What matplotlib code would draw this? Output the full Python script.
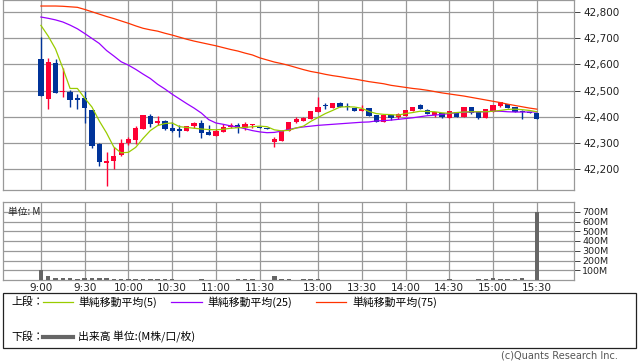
import matplotlib
matplotlib.use("Agg")
import matplotlib.pyplot as plt
from matplotlib.lines import Line2D
from matplotlib.patches import Rectangle

plt.rcParams['font.family'] = ['DejaVu Sans', 'Noto Sans CJK JP']
JP = ['Noto Sans CJK JP', 'DejaVu Sans']

# 5-minute bars, index 0 = 9:00 ... 31 = 11:35, 32 = 12:30 ... 68 = 15:30
tick_idx = [0, 6, 12, 18, 24, 30, 38, 44, 50, 56, 62, 68]
tick_labels = ["9:00", "9:30", "10:00", "10:30", "11:00", "11:30",
               "13:00", "13:30", "14:00", "14:30", "15:00", "15:30"]

opens = [42620, 42469, 42605, 42493, 42495, 42470, 42470, 42426, 42295, 42224,
         42232, 42254, 42301, 42310, 42352, 42403, 42376, 42384, 42357, 42352,
         42346, 42365, 42376, 42341, 42327, 42343, 42359, 42368, 42358, 42369,
         42359, 42357, 42302, 42308, 42346, 42381, 42385, 42390, 42419, 42444,
         42434, 42451, 42442, 42434, 42423, 42432, 42405, 42378, 42406, 42400,
         42403, 42423, 42445, 42426, 42405, 42414, 42396, 42417, 42400, 42438,
         42417, 42396, 42419, 42442, 42448, 42436, 42422, 42418, 42416]
highs = [42706, 42624, 42620, 42585, 42502, 42487, 42498, 42426, 42298, 42265,
         42285, 42316, 42321, 42364, 42406, 42411, 42403, 42389, 42380, 42368,
         42364, 42381, 42388, 42368, 42353, 42372, 42377, 42375, 42379, 42373,
         42359, 42357, 42321, 42346, 42380, 42398, 42400, 42423, 42476, 42451,
         42451, 42457, 42451, 42434, 42445, 42432, 42405, 42405, 42406, 42413,
         42426, 42438, 42448, 42429, 42418, 42414, 42422, 42417, 42438, 42438,
         42422, 42429, 42445, 42457, 42448, 42436, 42426, 42418, 42416]
lows = [42480, 42429, 42492, 42474, 42438, 42429, 42375, 42279, 42212, 42136,
        42200, 42250, 42292, 42296, 42352, 42362, 42368, 42349, 42343, 42324,
        42346, 42355, 42320, 42330, 42327, 42343, 42356, 42339, 42349, 42356,
        42356, 42354, 42285, 42308, 42346, 42375, 42382, 42390, 42419, 42431,
        42434, 42438, 42424, 42422, 42423, 42404, 42378, 42378, 42387, 42391,
        42403, 42423, 42428, 42409, 42400, 42396, 42396, 42400, 42400, 42409,
        42391, 42396, 42419, 42438, 42432, 42417, 42390, 42415, 42392]
closes = [42480, 42609, 42492, 42498, 42464, 42465, 42432, 42288, 42228, 42230,
          42250, 42301, 42313, 42358, 42406, 42374, 42385, 42354, 42347, 42347,
          42364, 42376, 42336, 42331, 42345, 42361, 42368, 42356, 42373, 42373,
          42356, 42354, 42314, 42346, 42380, 42390, 42394, 42423, 42438, 42440,
          42451, 42438, 42438, 42422, 42430, 42404, 42378, 42405, 42397, 42409,
          42426, 42438, 42428, 42409, 42418, 42400, 42422, 42400, 42438, 42413,
          42396, 42429, 42445, 42455, 42432, 42417, 42418, 42415, 42392]

sma5 = [42749, 42708, 42659, 42586, 42508, 42508, 42471, 42437, 42384, 42338,
        42284, 42262, 42264, 42283, 42317, 42347, 42366, 42374, 42376, 42362,
        42359, 42356, 42353, 42351, 42350, 42352, 42356, 42358, 42359, 42362,
        42364, 42362, 42350, 42346, 42348, 42357, 42364, 42382, 42397, 42412,
        42424, 42437, 42438, 42437, 42432, 42420, 42412, 42409, 42408, 42406,
        42412, 42416, 42421, 42420, 42419, 42415, 42413, 42416, 42418, 42419,
        42419, 42419, 42421, 42424, 42428, 42429, 42427, 42424, 42419]
sma25 = [42781, 42776, 42770, 42762, 42750, 42736, 42718, 42699, 42680, 42653,
         42632, 42610, 42597, 42581, 42563, 42546, 42524, 42506, 42486, 42468,
         42450, 42433, 42414, 42389, 42376, 42371, 42365, 42361, 42354, 42347,
         42342, 42339, 42340, 42345, 42351, 42357, 42361, 42364, 42367, 42369,
         42371, 42373, 42375, 42377, 42379, 42380, 42384, 42385, 42387, 42390,
         42393, 42396, 42400, 42404, 42406, 42409, 42412, 42415, 42417, 42418,
         42419, 42419, 42421, 42421, 42419, 42418, 42418, 42418, 42418]
sma75 = [42823, 42823, 42823, 42822, 42820, 42818, 42810, 42801, 42792, 42783,
         42775, 42766, 42757, 42747, 42738, 42732, 42727, 42719, 42712, 42704,
         42696, 42689, 42683, 42677, 42671, 42664, 42657, 42651, 42643, 42636,
         42625, 42617, 42609, 42603, 42596, 42588, 42580, 42573, 42568, 42562,
         42557, 42553, 42548, 42544, 42539, 42534, 42530, 42526, 42520, 42516,
         42512, 42508, 42505, 42501, 42496, 42491, 42487, 42483, 42479, 42474,
         42469, 42464, 42459, 42454, 42448, 42443, 42438, 42433, 42429]

# volume in millions
volume = [100, 44, 20, 20, 20, 8, 20, 20, 20, 20,
          10, 10, 10, 10, 10, 10, 10, 10, 10, 3,
          3, 2, 10, 2, 2, 2, 2, 10, 10, 10,
          1, 1, 40, 12, 10, 3, 10, 10, 12, 4,
          4, 3, 3, 3, 3, 3, 3, 3, 3, 3,
          3, 3, 3, 3, 3, 3, 12, 3, 3, 3,
          10, 8, 20, 12, 10, 12, 20, 3, 700]

price_ticks = [42200, 42300, 42400, 42500, 42600, 42700, 42800]
vol_ticks = [100, 200, 300, 400, 500, 600, 700]

UP = "#ff0033"
DOWN = "#003399"
GRID = "#999999"

W, H = 638, 362
fig = plt.figure(figsize=(W / 100, H / 100), dpi=100)


def fx(x):
    return x / W


def fy(y):
    return 1 - y / H


ax = fig.add_axes([fx(3), fy(190), fx(574) - fx(3), fy(0) - fy(190)])
axv = fig.add_axes([fx(3), fy(280), fx(574) - fx(3), fy(202) - fy(280)])

xs = list(range(len(opens)))
for a in (ax, axv):
    a.set_xlim(-5.2, 73.1)
    a.set_xticks(tick_idx)
    a.grid(True, color=GRID, linewidth=0.9)
    a.set_axisbelow(True)
    a.yaxis.tick_right()
    for s in a.spines.values():
        s.set_color(GRID)
        s.set_linewidth(0.9)
    a.tick_params(axis="x", length=0)
    a.tick_params(axis="y", colors="#222222", length=4, color="#222222",
                  width=0.6, pad=3)

# candles
for i in xs:
    o, h, l, c = opens[i], highs[i], lows[i], closes[i]
    col = UP if c > o else DOWN
    ax.vlines(i, l, h, color=col, linewidth=1.0, zorder=3)
    ax.bar(i, max(abs(c - o), 3), bottom=min(o, c), width=0.72, color=col,
           linewidth=0, zorder=3)

ax.plot(xs, sma75, color="#ff3300", linewidth=0.9, zorder=4)
ax.plot(xs, sma25, color="#9900ff", linewidth=0.9, zorder=4)
ax.plot(xs, sma5, color="#99cc00", linewidth=0.9, zorder=5)

ax.set_ylim(42120, 42846)
ax.set_yticks(price_ticks)
ax.set_yticklabels([f"{p:,}" for p in price_ticks], fontsize=7.5)
ax.set_xticklabels([])

# volume
axv.bar(xs, volume, width=0.62, color="#666666", linewidth=0, zorder=3)
axv.set_ylim(0, 800)
axv.set_yticks(vol_ticks)
axv.set_yticklabels([f"{v}M" for v in vol_ticks], fontsize=6.8)
axv.tick_params(axis="y", pad=2)
axv.set_xticklabels(tick_labels, fontsize=7.5, color="#222222")
axv.tick_params(axis="x", pad=2)
axv.text(0.008, 0.93, "単位: M", transform=axv.transAxes, fontsize=7,
         family=JP, va="top", ha="left", color="#222222")

# legend box
fig.patches.append(Rectangle((fx(3), fy(348)), fx(636) - fx(3), fy(293) - fy(348),
                             transform=fig.transFigure, fill=False,
                             edgecolor="#222222", linewidth=0.9))
row1, row2 = 302, 337
fs = 7.8
fig.text(fx(11), fy(row1), "上段：", family=JP, fontsize=fs, va="center")
fig.text(fx(11), fy(row2), "下段：", family=JP, fontsize=fs, va="center")
legend_items = [(43, 73, 78, "#99cc00", "単純移動平均(5)"),
                (171, 202, 207, "#9900ff", "単純移動平均(25)"),
                (316, 346, 352, "#ff3300", "単純移動平均(75)")]
for x0, x1, xt, col, label in legend_items:
    fig.lines.append(Line2D([fx(x0), fx(x1)], [fy(row1), fy(row1)],
                            transform=fig.transFigure, color=col, linewidth=0.9))
    fig.text(fx(xt), fy(row1), label, family=JP, fontsize=fs, va="center")
fig.lines.append(Line2D([fx(43), fx(73)], [fy(row2), fy(row2)],
                        transform=fig.transFigure, color="#666666", linewidth=3))
fig.text(fx(78), fy(row2), "出来高 単位:(M株/口/枚)", family=JP, fontsize=fs,
         va="center")

fig.text(fx(618), fy(356), "(c)Quants Research Inc.", fontsize=7,
         color="#555555", ha="right", va="center")

fig.savefig("out.png", dpi=100)
